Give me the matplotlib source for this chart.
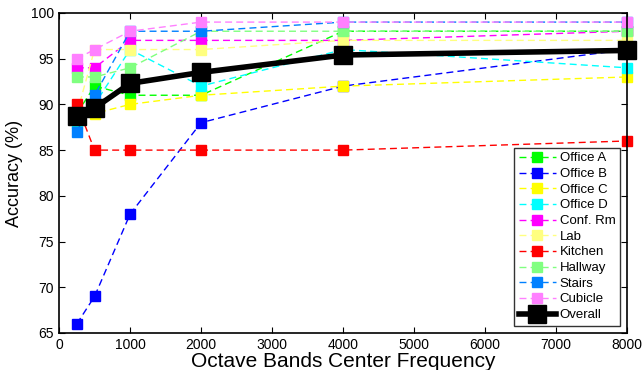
import matplotlib
matplotlib.use("Agg")
import matplotlib.pyplot as plt

plt.rcParams['font.family'] = ['Liberation Sans', 'DejaVu Sans']

freqs = [250, 500, 1000, 2000, 4000, 8000]

names = ['Office A', 'Office B', 'Office C', 'Office D', 'Conf. Rm',
         'Lab', 'Kitchen', 'Hallway', 'Stairs', 'Cubicle']
office_a = [89, 92, 91, 91, 98, 98]
office_b = [66, 69, 78, 88, 92, 96]
office_c = [89, 89, 90, 91, 92, 93]
office_d = [88, 90, 96, 92, 96, 94]
conf_rm = [94, 94, 97, 97, 97, 98]
lab = [89, 96, 96, 96, 97, 97]
kitchen = [90, 85, 85, 85, 85, 86]
hallway = [93, 93, 94, 98, 98, 98]
stairs = [87, 91, 98, 98, 99, 99]
cubicle = [95, 96, 98, 99, 99, 99]
overall = [88.7, 89.6, 92.3, 93.5, 95.4, 95.9]

series = [office_a, office_b, office_c, office_d, conf_rm,
          lab, kitchen, hallway, stairs, cubicle]
colors = [(0, 1, 0), (0, 0, 1), (1, 1, 0), (0, 1, 1), (1, 0, 1),
          (1, 1, 0.5), (1, 0, 0), (0.5, 1, 0.5), (0, 0.5, 1), (1, 0.5, 1)]

fig = plt.figure(figsize=(6.42, 3.70), dpi=100)
ax = fig.add_axes([0.092, 0.1, 0.885, 0.865])

for name, vals, c in zip(names, series, colors):
    ax.plot(freqs, vals, '--', color=c, lw=1, dashes=(5, 3), marker='s',
            ms=7.5, mfc=c, mec=c, label=name, clip_on=False)
ax.plot(freqs, overall, '-', color='black', lw=4, marker='s', ms=13,
        mfc='black', mec='black', label='Overall', clip_on=False)

ax.set_xlim(0, 8000)
ax.set_ylim(65, 100)
ax.set_xticks(range(0, 8001, 1000))
ax.set_yticks(range(65, 101, 5))
ax.tick_params(direction='in', top=True, right=True, labelsize=10, length=4)
for s in ax.spines.values():
    s.set_linewidth(1.2)

ax.set_xlabel('Octave Bands Center Frequency', fontsize=15, labelpad=0)
ax.set_ylabel('Accuracy (%)', fontsize=13, labelpad=6)

leg = ax.legend(loc='lower right', fontsize=9.5, frameon=True, fancybox=False,
                edgecolor='black', handlelength=2.8, handletextpad=0.3,
                labelspacing=0.26, borderpad=0.35, borderaxespad=0.55)
leg.get_frame().set_linewidth(1)
leg.set_zorder(5)

fig.savefig('out.png', dpi=100)
